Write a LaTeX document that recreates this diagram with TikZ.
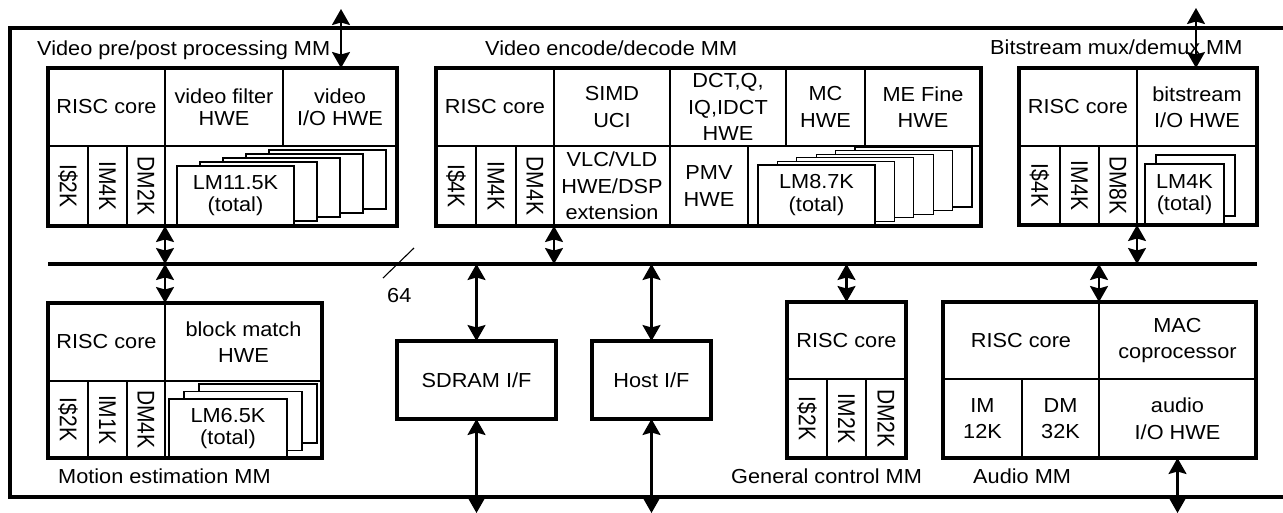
\documentclass[tikz,border=0pt]{standalone}
\usepackage{fontspec}
\setmainfont{Liberation Sans}[FakeStretch=1.07]
\newfontfamily\vfont{Liberation Sans}
\usetikzlibrary{arrows.meta}

% cell: name, extra style, x1, y1, x2, y2, text
\newcommand\cellat[7]{%
  \node[cellst,#2,minimum width={(#5-#3)*1pt},minimum height={(#6-#4)*1pt}]
    (#1) at ({(#3+#5)/2},{(#4+#6)/2}) {#7};}
% vertical cell with text reading downwards
\newcommand\vcellat[6]{%
  \node[cellst,rotate=-90,minimum width={(#5-#3)*1pt},minimum height={(#4-#2)*1pt}]
    (#1) at ({(#2+#4)/2},{(#3+#5)/2})
    {\vfont\fontsize{21}{21}\selectfont\scalebox{1}[1.15]{#6}};}
% thick outline of a module
\newcommand\blockat[5]{%
  \node[blk,minimum width={(#4-#2)*1pt},minimum height={(#5-#3)*1pt}]
    (#1) at ({(#2+#4)/2},{(#3+#5)/2}) {};}
% stack of local-memory cards: prefix, count-1, x, y, w, h, dx, dy, text
\newcommand\cardstack[9]{%
  \foreach \i in {#2,...,1}{%
    \node[card,minimum width=#5pt,minimum height=#6pt]
      (#1-\i) at ({#3+#7*\i},{#4+#8*\i}) {};}
  \node[card,minimum width=#5pt,minimum height=#6pt] (#1-0) at (#3,#4) {#9};}

\begin{document}
\begin{tikzpicture}[x=1pt,y=-1pt,
  cellst/.style={draw,line width=1.9pt,inner sep=0pt,outer sep=0pt,align=center,
    font=\fontsize{20.3}{26.5}\selectfont},
  tight/.style={font=\fontsize{20.3}{22}\selectfont},
  blk/.style={draw,line width=3.4pt,inner sep=0pt,outer sep=0pt},
  ifbox/.style={draw,line width=3.4pt,inner sep=0pt,outer sep=0pt,
    font=\fontsize{20.3}{24}\selectfont},
  card/.style={draw,line width=1.1pt,fill=white,inner sep=0pt,outer sep=0pt,
    anchor=north west,align=center,font=\fontsize{20.3}{22.5}\selectfont},
  ttl/.style={anchor=base west,inner sep=0pt,font=\fontsize{20.3}{24}\selectfont},
  dbl/.style={{Stealth[length=16pt,width=18pt,inset=2.5pt]}-{Stealth[length=16pt,width=18pt,inset=2.5pt]},
    line width=2.2pt},
  heavy/.style={line width=3.4pt}]
\useasboundingbox (0,0) rectangle (1283,512);

% outer frame, open at the right
\coordinate (fTL) at (10,28);
\coordinate (fTR) at (1283,28);
\coordinate (fBL) at (10,497);
\coordinate (fBR) at (1283,497);
\draw[heavy] (fTR) -- (fTL) -- (fBL) -- (fBR);

% 64-bit internal bus
\coordinate (busL) at (48,264);
\coordinate (busR) at (1257,264);
\draw[heavy] (busL) -- (busR);
\coordinate (w1) at (383,278);
\coordinate (w2) at (414,248);
\draw[line width=1.1pt] (w1) -- (w2);
\node[ttl] (wlab) at (387,302) {64};

% ---- Video pre/post processing MM ----
\cellat{A-core}{}{48}{68}{165}{146}{RISC core}
\cellat{A-filt}{tight}{165}{68}{283}{146}{video filter\\HWE}
\cellat{A-io}{tight}{283}{68}{397}{146}{video\\I/O HWE}
\vcellat{A-ic}{48}{146}{88}{226}{I\$2K}
\vcellat{A-im}{88}{146}{127}{226}{IM4K}
\vcellat{A-dm}{127}{146}{165}{226}{DM2K}
\cellat{A-lm}{}{165}{146}{397}{226}{}
\cardstack{A-card}{4}{177}{166}{117}{59}{23}{-4}{LM11.5K\\(total)}
\blockat{A}{48}{68}{397}{226}
\node[ttl] (tA) at (37,55) {Video pre/post processing MM};

% ---- Video encode/decode MM ----
\cellat{B-core}{}{436}{68}{554}{146}{RISC core}
\cellat{B-simd}{}{554}{68}{670}{146}{SIMD\\UCI}
\cellat{B-dct}{}{670}{68}{786}{146}{DCT,Q,\\IQ,IDCT\\HWE}
\cellat{B-mc}{}{786}{68}{865}{146}{MC\\HWE}
\cellat{B-me}{}{865}{68}{981}{146}{ME Fine\\HWE}
\vcellat{B-ic}{436}{146}{476}{226}{I\$4K}
\vcellat{B-im}{476}{146}{516}{226}{IM4K}
\vcellat{B-dm}{516}{146}{554}{226}{DM4K}
\cellat{B-vlc}{}{554}{146}{670}{226}{VLC/VLD\\HWE/DSP\\extension}
\cellat{B-pmv}{}{670}{146}{748}{226}{PMV\\HWE}
\cellat{B-lm}{}{748}{146}{981}{226}{}
\cardstack{B-card}{5}{758}{165}{117}{60}{19.4}{-3.6}{LM8.7K\\(total)}
\blockat{B}{436}{68}{981}{226}
\node[ttl] (tB) at (485,55) {Video encode/decode MM};

% ---- Bitstream mux/demux MM ----
\cellat{C-core}{}{1019}{68}{1137}{146}{RISC core}
\cellat{C-io}{}{1137}{68}{1257}{146}{bitstream\\I/O HWE}
\vcellat{C-ic}{1019}{146}{1060}{225}{I\$4K}
\vcellat{C-im}{1060}{146}{1099}{225}{IM4K}
\vcellat{C-dm}{1099}{146}{1137}{225}{DM8K}
\cellat{C-lm}{}{1137}{146}{1257}{225}{}
\cardstack{C-card}{1}{1145}{164}{79}{61}{11}{-9}{LM4K\\(total)}
\blockat{C}{1019}{68}{1257}{225}
\node[ttl] (tC) at (990,54) {Bitstream mux/demux MM};

% ---- Motion estimation MM ----
\cellat{D-core}{}{48}{303}{165}{381}{RISC core}
\cellat{D-bm}{}{165}{303}{322}{381}{block match\\HWE}
\vcellat{D-ic}{48}{381}{88}{458}{I\$2K}
\vcellat{D-im}{88}{381}{127}{458}{IM1K}
\vcellat{D-dm}{127}{381}{165}{458}{DM4K}
\cellat{D-lm}{}{165}{381}{322}{458}{}
\cardstack{D-card}{2}{169}{399}{118}{59}{15}{-7.5}{LM6.5K\\(total)}
\blockat{D}{48}{303}{322}{458}
\node[ttl] (tD) at (58,483) {Motion estimation MM};

% ---- SDRAM and host interfaces ----
\node[ifbox,minimum width=159pt,minimum height=78pt] (sdram) at (476.5,380) {SDRAM I/F};
\node[ifbox,minimum width=119pt,minimum height=78pt] (host) at (651.5,380) {Host I/F};

% ---- General control MM ----
\cellat{G-core}{}{787}{302}{906}{379}{RISC core}
\vcellat{G-ic}{787}{379}{827}{458}{I\$2K}
\vcellat{G-im}{827}{379}{866}{458}{IM2K}
\vcellat{G-dm}{866}{379}{906}{458}{DM2K}
\blockat{G}{787}{302}{906}{458}
\node[ttl] (tG) at (731,483) {General control MM};

% ---- Audio MM ----
\cellat{H-core}{}{943}{302}{1099}{379}{RISC core}
\cellat{H-mac}{}{1099}{302}{1256}{379}{MAC\\coprocessor}
\cellat{H-im}{}{943}{379}{1022}{458}{IM\\12K}
\cellat{H-dm}{}{1022}{379}{1099}{458}{DM\\32K}
\cellat{H-aud}{}{1099}{379}{1256}{458}{audio\\I/O HWE}
\blockat{H}{943}{302}{1256}{458}
\node[ttl] (tH) at (973,483) {Audio MM};

% ---- connections ----
\coordinate (extA) at (341,9);
\coordinate (extC) at (1196,8);
\draw[dbl] (extA) -- (extA |- A.north);
\draw[dbl] (extC) -- (extC |- C.north);
\draw[dbl] (A.south -| A-core.east) -- (A-core.east |- busL);
\draw[dbl] (busL -| D-core.east) -- (D.north -| D-core.east);
\draw[dbl] (B.south -| B-core.east) -- (B-core.east |- busL);
\draw[dbl] (C.south -| C-core.east) -- (C-core.east |- busL);
\draw[dbl] (busL -| sdram.north) -- (sdram.north);
\draw[dbl] (busL -| host.north) -- (host.north);
\draw[dbl] (busL -| G.north) -- (G.north);
\draw[dbl] (busL -| H-core.east) -- (H.north -| H-core.east);
\coordinate (sdramOut) at (476.5,513);
\coordinate (hostOut) at (651.5,513);
\coordinate (audOut) at (1177.5,513);
\draw[dbl] (sdram.south) -- (sdramOut);
\draw[dbl] (host.south) -- (hostOut);
\draw[dbl] (H-aud.south) -- (audOut);
\end{tikzpicture}
\end{document}
